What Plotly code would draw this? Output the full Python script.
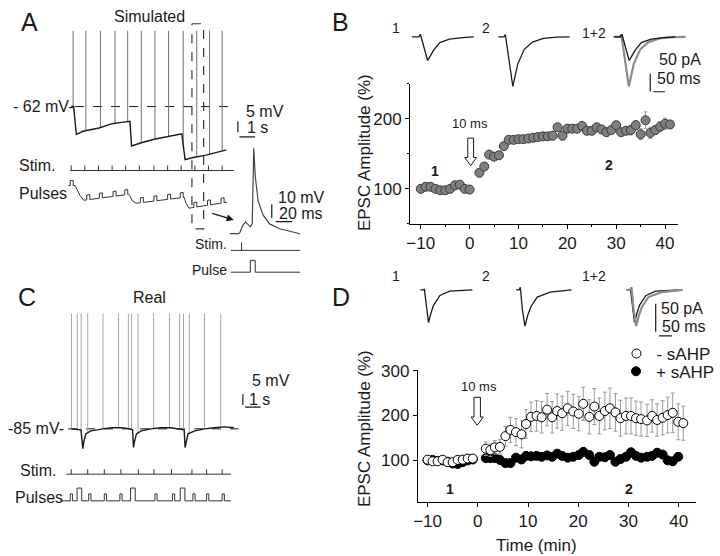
import numpy as np
import plotly.graph_objects as go

W, H = 720, 556
FONT = "Liberation Sans, Arial, sans-serif"
INK = "#1a1a1a"
GRAY_SPIKE = "#707070"
GRAY_SPIKE_C = "#a8a8a8"
GRAY_EPSC = "#8c8c8c"

# ======================= DATA =======================
# ---- Panel A (simulated): membrane trace (s, mV), spikes, stim, pulses
A_MEM_T = [0, 0.156, 0.33, 0.75, 1.79, 2.625, 3.25, 3.77, 3.875, 4.5, 5.33, 6.17, 7.1,
           7.31, 7.83, 8.67, 9.5, 9.96]
A_MEM_V = [-62, -62, -74.9, -73.4, -71.9, -69.9, -69.3, -68.8, -80.2, -78.7, -77.1, -76.0, -74.6,
           -86.5, -85.5, -84.4, -82.8, -82.0]
A_SPIKE_T = [0.125, 0.94, 1.875, 2.81, 3.625, 4.5, 5.375, 6.25, 7.19, 8.06, 8.875, 9.69]
A_SPIKE_PEAK = -27.0
A_REST = -62
A_STIM_T = [0, 0.875, 1.75, 2.625, 3.5, 4.375, 5.31, 6.19, 7.06, 7.94, 8.81, 9.69]
A_PULSE_BASE_T = [-0.19, 0.25, 0.375, 0.56, 0.81, 3.69, 3.75, 3.94, 4.19, 7.25, 7.375, 7.56, 10.0]
A_PULSE_BASE_L = [0, 0, -4, -10, -15, -9, -10, -16, -18, -12, -18, -23, -17]
A_PULSE_T = [-0.06, 1.0, 1.81, 2.69, 3.44, 4.44, 5.31, 6.19, 7.0, 7.875, 8.75, 9.625]
A_ZOOM_WINDOW = [7.75, 8.5]

# ---- Panel A inset: one stimulus (ms, mV relative)
INSET_T = [0, 10.6, 12, 15.3, 18.8, 22.4, 24.7, 27, 28.8, 30.6, 34, 40, 48, 60, 75, 84.7]
INSET_V = [0, 0, 0.7, 5.7, 8.6, 6.4, 5, 7.1, 62, 42, 24, 13.6, 7.1, 3.6, 1.4, 0]
INSET_STIM_T = [14.1]
INSET_PULSE_T = [24.7]

# ---- Panel B: EPSC amplitude (%) vs time (min)
B_T = [-10, -9, -8, -7, -6, -5, -4, -3, -2, -1, 0,
       2, 3, 4, 5, 6, 7, 8, 9, 10, 11, 12, 13, 14, 15, 16, 17, 18, 19, 20,
       21, 22, 23, 24, 25, 26, 27, 28, 29, 30, 31, 32, 33, 34, 35, 36, 37, 38, 39, 40, 41]
B_AMP = [100, 103, 103, 100, 98, 98, 100, 105, 106, 100, 99,
         123, 132, 149, 146, 148, 161, 170, 170, 171, 171, 172, 173, 174, 175, 175, 176, 188, 176, 186,
         186, 186, 190, 183, 183, 188, 185, 181, 184, 191, 181, 183, 184, 191, 178, 198, 180, 184, 189, 193, 192]
B_ERR = [3, 4, 4, 3, 4, 4, 5, 4, 4, 3, 3,
         3, 4, 4, 4, 4, 4, 4, 4, 4, 4, 4, 4, 4, 5, 5, 6, 5, 6, 6,
         5, 5, 4, 5, 5, 4, 4, 5, 4, 5, 5, 5, 7, 6, 8, 12, 8, 6, 7, 8, 5]

# EPSC sample traces (ms, pA)
B_EPSC1_T = [0, 30, 36, 50, 67, 80, 92, 119, 161, 217, 265]
B_EPSC1_I = [0, 0, 7.4, -30, -66.7, -52, -38, -16, -6.5, -2, 0]
B_EPSC2_T = [0, 24, 30, 45, 62, 72, 83, 111, 146, 193, 250, 305]
B_EPSC2_I = [0, 0, 6.7, -60, -139.7, -110, -76.7, -35, -14.7, -4.4, -0.8, 0]

# ---- Panel C (real): membrane trace (s, mV), spikes, stim, pulses
C_MEM_T = [0, 0.625, 0.75, 0.81, 0.94, 1.25, 1.69, 2.0, 2.625, 3.25, 3.75, 3.94, 4.0, 4.06, 4.19,
           4.5, 5.125, 5.75, 6.375, 7.0, 7.25, 7.31, 7.375, 7.5, 7.94, 8.56, 9.19, 9.81, 10.44]
C_MEM_V = [-85, -85.45, -94.1, -90.9, -87.3, -85.9, -85.45, -85, -84.5, -84.5, -85, -85.45, -93.6, -90.9, -87.3,
           -85.9, -85, -84.5, -84.5, -85, -85.45, -93.6, -90.9, -87.3, -85.9, -85, -84.5, -84.1, -84.5]
C_SPIKE_T = [0.02, 0.39, 0.64, 1.06, 2.04, 3.04, 3.67, 3.875, 4.29, 5.29, 6.31, 6.96, 7.21, 7.58, 8.56, 9.6]
C_SPIKE_PEAK = -31.8
C_REST = -85
C_STIM_T = [0, 1.06, 2.125, 3.19, 4.31, 5.31, 6.44, 7.75, 8.69, 9.69]
C_SMALL_PULSE_T = [-0.06, 1.125, 2.125, 3.125, 5.375, 6.5, 7.81, 8.69, 9.69]
C_BIG_PULSE_T = [0.375, 3.81, 7.0]

# ---- Panel D: EPSC amplitude (%) vs time (min), - sAHP (open) and + sAHP (filled)
D_OPEN_T = [-10, -9, -8, -7, -6, -5, -4, -3, -2, -1,
            1.6, 2.5, 3.4, 4.4, 5.5, 6.5, 7.6, 8.7, 9.6, 10.6, 11.7, 12.7, 13.8, 14.8, 15.8, 16.8,
            17.9, 19, 20.1, 21, 22.2, 23.2, 24.2, 25.3, 26.3, 27.4, 28.4, 29.5, 30.5, 31.5, 32.5,
            33.7, 34.7, 35.7, 36.8, 37.8, 38.8, 39.9, 40.9]
D_OPEN = [101.5, 98, 98, 101.5, 96, 96, 101, 101.5, 104, 104,
          126, 123, 129, 130, 154, 168, 163, 158, 181, 197, 199, 196, 213, 196, 210, 205,
          216, 209, 204, 226, 197, 220, 199, 210, 216, 207, 194, 199, 199, 194, 192,
          189, 199, 190, 195, 201, 206, 186, 183]
D_OPEN_ERR = [5, 5, 5, 5, 6, 6, 5, 5, 5, 5,
              15, 14, 15, 16, 22, 28, 30, 30, 32, 33, 34, 35, 36, 35, 38, 38,
              38, 38, 38, 37, 38, 40, 40, 42, 45, 42, 40, 40, 40, 38, 38,
              36, 36, 36, 38, 40, 44, 40, 38]
D_FILLED_T = [-10, -9, -8, -7, -6, -5, -4, -3, -2, -1,
              1.6, 2.5, 3.4, 4.4, 5.5, 6.5, 7.6, 8.7, 9.6, 10.6, 11.7, 12.7, 13.8, 14.8, 15.8, 16.8,
              17.9, 19, 20.1, 21, 22.2, 23.2, 24.2, 25.3, 26.3, 27.4, 28.4, 29.5, 30.5, 31.5, 32.5,
              33.7, 34.7, 35.7, 36.8, 37.8, 38.8, 39.9]
D_FILLED = [100, 101, 99, 100, 97, 93, 92, 96, 100, 102,
            105, 105, 105, 101, 94, 94, 106, 102, 110, 109, 110, 108, 111, 108, 115, 110,
            106, 108, 112, 119, 112, 97, 108, 107, 112, 97, 103, 108, 118, 110, 106,
            108, 110, 117, 113, 100, 98, 108]
D_FILLED_ERR = [6, 6, 6, 6, 7, 7, 7, 6, 6, 6,
                7, 7, 7, 8, 8, 8, 8, 8, 8, 8, 8, 8, 8, 8, 8, 8,
                8, 8, 8, 9, 9, 9, 8, 8, 8, 8, 8, 8, 8, 8, 8,
                8, 8, 8, 8, 8, 8, 8]

D_EPSC1_T = [0, 12, 15, 22, 31, 40, 50, 75, 112.5, 200]
D_EPSC1_I = [0, 0, 2, -30, -58.4, -42, -27.5, -10, -2.3, 0]
D_EPSC2_T = [0, 12, 16, 24, 34, 44, 56, 81, 131, 213]
D_EPSC2_I = [0, 0, 4.7, -35, -64.4, -46, -30.4, -12.8, -4, 0]

TICKS_X = [-10, 0, 10, 20, 30, 40]

# ======================= FIGURE =======================
fig = go.Figure()
layout = {}


def axes_from_scale(n, box, xo_px, x_ppu, xo_val, yo_px, y_ppu, yo_val):
    x0, x1, y0, y1 = box
    xr = [xo_val + (x0 - xo_px) / x_ppu, xo_val + (x1 - xo_px) / x_ppu]
    yr = [yo_val - (y1 - yo_px) / y_ppu, yo_val - (y0 - yo_px) / y_ppu]
    layout[f"xaxis{n}"] = dict(domain=[x0 / W, x1 / W], range=xr, visible=False,
                               anchor=f"y{n}", fixedrange=True)
    layout[f"yaxis{n}"] = dict(domain=[1 - y1 / H, 1 - y0 / H], range=yr, visible=False,
                               anchor=f"x{n}", fixedrange=True)
    return f"x{n}", f"y{n}"


def line(xs, ys, ax, color=INK, width=1.0, dash=None):
    fig.add_trace(go.Scatter(x=xs, y=ys, mode="lines", xaxis=ax[0], yaxis=ax[1],
                             line=dict(color=color, width=width, dash=dash),
                             showlegend=False, hoverinfo="skip"))


def spikes(times, mem_t, mem_v, peak):
    xs, ys = [], []
    for t in times:
        b = float(np.interp(t, mem_t, mem_v))
        xs += [t, t, None]
        ys += [b, peak, None]
    return xs, ys


def stim_row(times, t0, t1, base, h):
    xs, ys = [t0, t1, None], [base, base, None]
    for t in times:
        xs += [t, t, None]
        ys += [base, base + h, None]
    return xs, ys


def pulse_row(base_t, base_l, pulses, offset, scale):
    # pulses: list of (start, width, height) drawn on a piecewise-linear baseline
    starts = {round(p[0], 6): p for p in pulses}
    ends = {round(p[0] + p[1], 6): p for p in pulses}
    ts = sorted(set([round(t, 6) for t in base_t]) | set(starts) | set(ends))
    xs, ys = [], []
    for t in ts:
        b = float(np.interp(t, base_t, base_l))
        inside = [p for p in pulses if p[0] < t < p[0] + p[1]]
        if t in starts:
            xs += [t, t]
            ys += [b, b + starts[t][2]]
        elif t in ends:
            xs += [t, t]
            ys += [b + ends[t][2], b]
        else:
            xs.append(t)
            ys.append(b + (inside[0][2] if inside else 0))
    return xs, [offset + scale * y for y in ys]


# ---------- Panel A main ----------
axA = axes_from_scale(3, (55, 310, 10, 232), 68, 16, 0, 100, 2.2, A_REST)
line([0.25, 10.44], [A_REST, A_REST], axA, color=INK, width=1, dash="dash")
sx, sy = spikes(A_SPIKE_T, A_MEM_T, A_MEM_V, A_SPIKE_PEAK)
line(sx, sy, axA, color=GRAY_SPIKE, width=1)
line(A_MEM_T, A_MEM_V, axA, color=INK, width=1.4)
sx, sy = stim_row(A_STIM_T, -0.06, 10.44, -91.5, 2.3)
line(sx, sy, axA, color="#333", width=1)
px_, py_ = pulse_row(A_PULSE_BASE_T, A_PULSE_BASE_L, [(t, 0.19, 5) for t in A_PULSE_T], -98.4, 1 / 2.2)
line(px_, py_, axA, color="#333", width=1)
# zoom window (dashed box)
line([A_ZOOM_WINDOW[0], A_ZOOM_WINDOW[1], A_ZOOM_WINDOW[1], A_ZOOM_WINDOW[0], A_ZOOM_WINDOW[0]],
     [-23.8, -23.8, -118.4, -118.4, -23.8], axA, color="#333", width=1.2, dash="dash")
# scale bars 5 mV / 1 s
line([10.7, 10.7], [-68.8, -73.8], axA, color=INK, width=1.2)
line([10.8, 11.8], [-75.95, -75.95], axA, color=INK, width=1.2)

# ---------- Panel A inset ----------
axI = axes_from_scale(4, (185, 312, 130, 280), 231, 0.85, 0, 229, 1.4, 0)
line(INSET_T, INSET_V, axI, color="#444", width=1.2)
sx, sy = stim_row(INSET_STIM_T, 1.2, 84.7, -12.1, 5.7)
line(sx, sy, axI, color="#333", width=1)
px_, py_ = pulse_row([1.2, 84.7], [0, 0], [(t, 5.9, 8.6) for t in INSET_PULSE_T], -27.9, 1)
line(px_, py_, axI, color="#333", width=1)
line([50.6, 50.6], [21.4, 11.4], axI, color=INK, width=1.2)
line([55.3, 75.3], [8.8, 8.8], axI, color=INK, width=1.2)

# ---------- Panel C ----------
axC = axes_from_scale(5, (55, 310, 300, 512), 68, 16, 0, 427, 2.2, C_REST)
line([-0.2, 10.75], [C_REST, C_REST], axC, color=INK, width=1, dash="dash")
sx, sy = spikes(C_SPIKE_T, C_MEM_T, C_MEM_V, C_SPIKE_PEAK)
line(sx, sy, axC, color=GRAY_SPIKE_C, width=1)
line(C_MEM_T, C_MEM_V, axC, color=INK, width=1.4)
sx, sy = stim_row(C_STIM_T, -0.31, 10.25, -105.9, 2.3)
line(sx, sy, axC, color="#333", width=1)
pl = [(t, 0.14, 3.2) for t in C_SMALL_PULSE_T] + [(t, 0.3, 5.9) for t in C_BIG_PULSE_T]
px_, py_ = pulse_row([-0.69, 10.25], [0, 0], sorted(pl), -118.2, 1)
line(px_, py_, axC, color="#333", width=1)
line([11.02, 11.02], [-69.0, -74.0], axC, color=INK, width=1.2)
line([11.16, 12.16], [-75.0, -75.0], axC, color=INK, width=1.2)

# ---------- Panel B sample EPSCs ----------
axBt = axes_from_scale(6, (395, 720, 8, 95), 418, 0.24, 0, 29.3, 0.36, 0)
line(B_EPSC1_T, B_EPSC1_I, axBt, color=INK, width=1.3)
line([t + 369.6 for t in B_EPSC2_T], B_EPSC2_I, axBt, color=INK, width=1.3)
line([t + 866 for t in B_EPSC2_T], B_EPSC2_I, axBt, color=GRAY_EPSC, width=2.2)
line([t + 862.5 for t in B_EPSC1_T], B_EPSC1_I, axBt, color=INK, width=1.3)
line([1019.6, 1019.6], [-103.9, -153.9], axBt, color=INK, width=1.2)
line([1033, 1083], [-154.7, -154.7], axBt, color=INK, width=1.2)

# ---------- Panel D sample EPSCs ----------
axDt = axes_from_scale(7, (395, 720, 278, 345), 426.7, 0.267, 0, 286, 0.57, 0)
line(D_EPSC1_T, D_EPSC1_I, axDt, color=INK, width=1.3)
line([t + 368.2 for t in D_EPSC2_T], D_EPSC2_I, axDt, color=INK, width=1.3)
line([t + 792.5 for t in D_EPSC1_T], D_EPSC1_I, axDt, color=INK, width=1.3)
line([t + 796 for t in D_EPSC2_T], D_EPSC2_I, axDt, color=GRAY_EPSC, width=2.2)
line([905, 905], [-24.6, -74.6], axDt, color=INK, width=1.2)
line([917.6, 967.6], [-81.9, -81.9], axDt, color=INK, width=1.2)

# ---------- Panel B plot ----------
fig.add_trace(go.Scatter(
    x=B_T, y=B_AMP, mode="markers", xaxis="x", yaxis="y", showlegend=False,
    error_y=dict(type="data", array=B_ERR, color="#9a9a9a", thickness=1, width=2),
    marker=dict(size=9, color="#7f7f7f", line=dict(color="#3a3a3a", width=1)),
    hoverinfo="skip"))

# ---------- Panel D plot ----------
fig.add_trace(go.Scatter(
    x=D_FILLED_T, y=D_FILLED, mode="markers", xaxis="x2", yaxis="y2", name="+ sAHP",
    legend="legend2",
    error_y=dict(type="data", array=D_FILLED_ERR, color="#9a9a9a", thickness=1, width=2),
    marker=dict(size=9, color="#000000", line=dict(color="#000000", width=1)),
    hoverinfo="skip"))
fig.add_trace(go.Scatter(
    x=D_OPEN_T, y=D_OPEN, mode="markers", xaxis="x2", yaxis="y2", name="- sAHP",
    legend="legend",
    error_y=dict(type="data", array=D_OPEN_ERR, color="#9a9a9a", thickness=1, width=2),
    marker=dict(size=9, color="#ffffff", line=dict(color="#000000", width=1)),
    hoverinfo="skip"))

axis_common = dict(showline=True, linecolor="#000", linewidth=1, ticks="outside",
                   ticklen=4, tickwidth=1, tickcolor="#000", showgrid=False, zeroline=False,
                   tickfont=dict(family=FONT, size=17, color=INK), fixedrange=True)

layout["xaxis"] = dict(axis_common, domain=[416 / W, 691 / W], range=[-12.2, 42.6],
                       tickvals=TICKS_X, anchor="y",
                       minor=dict(ticks="outside", ticklen=2.5, dtick=5, tick0=0, tickcolor="#000"))
layout["yaxis"] = dict(axis_common, domain=[1 - 219 / H, 1 - 77 / H], range=[50, 250],
                       tickvals=[100, 200], anchor="x",
                       minor=dict(ticks="outside", ticklen=2.5, dtick=50, tick0=0, tickcolor="#000"))
layout["xaxis2"] = dict(axis_common, domain=[424 / W, 710 / W], range=[-11.94, 43.49],
                        tickvals=TICKS_X, anchor="y2")
layout["yaxis2"] = dict(axis_common, domain=[1 - 501 / H, 1 - 367 / H], range=[7.7, 302],
                        tickvals=[100, 200, 300], anchor="x2")

# ---------- text ----------
ann = []


def text(s, x, y, size=16, anchor="center", bold=False, angle=0, color=INK, family=FONT):
    if bold:
        s = f"<b>{s}</b>"
    ann.append(dict(text=s, x=x / W, y=1 - y / H, xref="paper", yref="paper",
                    xanchor=anchor, yanchor="middle", showarrow=False, textangle=angle,
                    font=dict(family=family, size=size, color=color)))


for s, x, y in [("A", 25, 14), ("B", 345, 14), ("C", 23, 293), ("D", 345, 293)]:
    text(s, x, y, size=25)
text("Simulated", 148, 9, 16)
text("Real", 148, 294, 16)
text("- 62 mV-", 72, 100, 16, "right")
text("5 mV", 245, 105, 16, "left")
text("1 s", 246, 121, 16, "left")
text("Stim.", 12, 160, 16, "left")
text("Pulses", 12, 188, 16, "left")
text("10 mV", 278, 192, 16, "left")
text("20 ms", 279, 208, 16, "left")
text("Stim.", 230, 239, 14, "right")
text("Pulse", 230, 266, 14, "right")

text("-85 mV-", 63, 427, 16, "right")
text("5 mV", 252, 378, 16, "left")
text("1 s", 249, 397, 16, "left")
text("Stim.", 13, 469, 16, "left")
text("Pulses", 8, 497, 16, "left")

text("1", 402, 20, 14)
text("2", 494, 20, 14)
text("1+2", 605, 25, 14)
text("50 pA", 670, 52, 16, "left")
text("50 ms", 668, 72, 16, "left")
text("10 ms", 478, 117, 13)
text("1", 442, 165, 14, bold=True)
text("2", 620, 159, 14, bold=True)
text("EPSC Amplitude (%)", 370, 147, 17, angle=-90)

text("1", 402, 272, 14)
text("2", 494, 272, 14)
text("1+2", 605, 272, 14)
text("50 pA", 672, 305, 16, "left")
text("50 ms", 673, 323, 16, "left")
text("10 ms", 487, 384, 13)
text("1", 457, 488, 14, bold=True)
text("2", 641, 488, 14, bold=True)
text("EPSC Amplitude (%)", 370, 427, 17, angle=-90)
text("Time (min)", 546, 545, 17)

# solid arrow pointing to inset
ann.append(dict(x=235 / W, y=1 - 215 / H, xref="paper", yref="paper", ax=-23, ay=-7,
                showarrow=True, arrowhead=2, arrowsize=1.1, arrowwidth=1.3, arrowcolor=INK, text=""))


def hollow_arrow(cx, top, neck, tip, sw=3, hw=6):
    pts = [(cx - sw, top), (cx + sw, top), (cx + sw, neck), (cx + hw, neck), (cx, tip),
           (cx - hw, neck), (cx - sw, neck)]
    path = "M " + " L ".join(f"{x / W:.5f},{1 - y / H:.5f}" for x, y in pts) + " Z"
    return dict(type="path", path=path, xref="paper", yref="paper",
                fillcolor="white", line=dict(color=INK, width=1))


shapes = [hollow_arrow(478.3, 132, 151.7, 160), hollow_arrow(485, 395, 415, 423.3, 3.3, 6.3)]

leg_common = dict(xanchor="left", yanchor="middle", bgcolor="rgba(0,0,0,0)", borderwidth=0,
                  font=dict(family=FONT, size=17, color=INK), itemwidth=30)
layout["legend"] = dict(leg_common, x=628 / W, y=1 - 351 / H)
layout["legend2"] = dict(leg_common, x=628 / W, y=1 - 369 / H)

fig.update_layout(**layout)
fig.update_layout(width=W, height=H, margin=dict(l=0, r=0, t=0, b=0),
                  paper_bgcolor="white", plot_bgcolor="rgba(0,0,0,0)",
                  annotations=ann, shapes=shapes, font=dict(family=FONT, color=INK))
POST = ("document.body.style.margin='0';document.body.style.overflow='hidden';"
        "var gd=document.getElementById('{plot_id}');gd.style.position='absolute';"
        "gd.style.left='0px';gd.style.top='0px';")
fig.write_html("out.html", config={"displayModeBar": False}, post_script=POST)
